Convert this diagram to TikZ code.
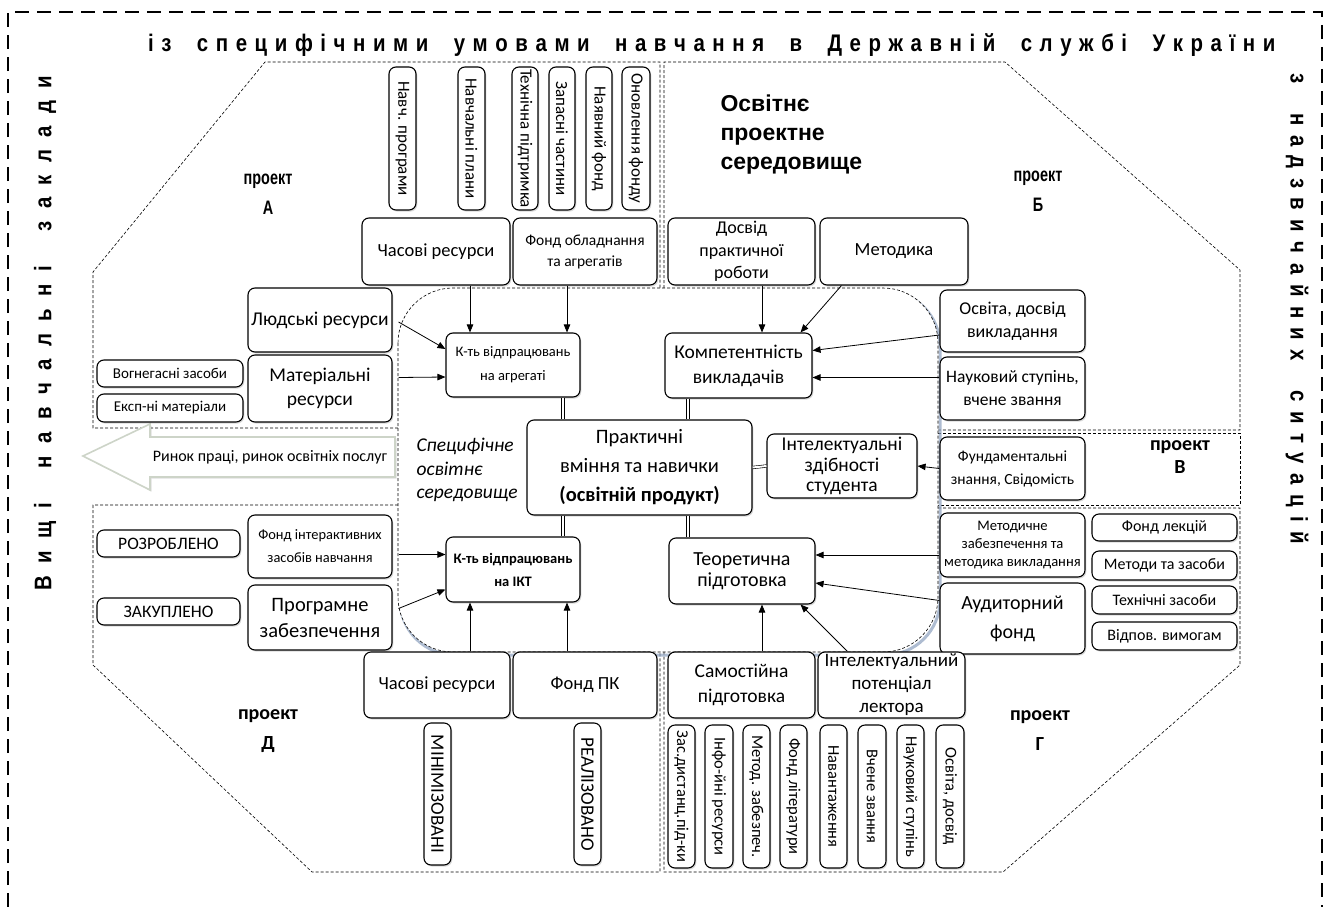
\documentclass[tikz,border=0pt]{standalone}
\usepackage{fontspec}
\setmainfont{Carlito}
\newfontfamily\arialf{Liberation Sans}
\usetikzlibrary{arrows.meta,calc,shadows}
\makeatletter
\newcommand\spreadw[1]{\def\sw@f{1}\@tfor\sw@c:=#1\do{\ifnum\sw@f=1 \def\sw@f{0}\else\hskip 0pt plus 1fil\relax\fi\sw@c}}
\makeatother
\newcommand\wgap{\hskip 0.5em plus 2fil\relax}
\definecolor{shadowblue}{RGB}{140,160,190}
\definecolor{arrowedge}{RGB}{205,212,200}
\tikzset{
 bx/.style={draw, rounded corners=7pt, fill=white, line width=1.1pt, align=center, inner sep=1pt,
   drop shadow={shadow xshift=1.3pt, shadow yshift=-1.6pt, opacity=0.3}},
 reg/.style={draw, line width=0.6pt, dash pattern=on 3pt off 2pt},
 outer/.style={draw, line width=1.8pt, dash pattern=on 14pt off 8pt},
 arr/.style={-{Triangle[length=8pt,width=6.5pt]}, line width=0.8pt},
 dbl/.style={double, double distance=2pt, line width=0.6pt},
 title/.style={font=\arialf\bfseries\fontsize{24}{28}\selectfont, inner sep=0},
}
\newcommand\fs[1]{\fontsize{#1}{#1}\selectfont}
\newcommand\ff[2]{\fontsize{#1}{#2}\selectfont}
\newcommand\BX[7]{\node[bx, font=#6, minimum width={#4-#2}, minimum height={#5-#3}] (#1) at ({(#2+#4)/2},{(#3+#5)/2}) {#7};}
\newcommand\VBX[7]{\node[bx, rotate=-90, font=#6, minimum width={#5-#3}, minimum height={#4-#2}] (#1) at ({(#2+#4)/2},{(#3+#5)/2}) {#7};}
\newcommand\narrow[1]{\scalebox{0.74}[1]{#1}}
\begin{document}
\begin{tikzpicture}[x=1pt,y=-1pt]
\useasboundingbox (0,0) rectangle (1330,907);
% outer border
\draw[outer] (8,907) -- (8,12) -- (1322,12) -- (1322,907);
% titles
\node[title, anchor=west] (hdr) at (148,45)
 {\scalebox{0.85}[1]{\makebox[1326pt][s]{\spreadw{із}\wgap\spreadw{специфічними}\wgap\spreadw{умовами}\wgap\spreadw{навчання}\wgap\spreadw{в}\wgap\spreadw{Державній}\wgap\spreadw{службі}\wgap\spreadw{України}}}};
\node[title, rotate=90] (vl) at (45,333)
 {\scalebox{0.85}[1]{\makebox[606pt][s]{\spreadw{Вищі}\wgap\spreadw{навчальні}\wgap\spreadw{заклади}}}};
\node[title, rotate=-90] (vr) at (1297,309)
 {\scalebox{0.85}[1]{\makebox[553pt][s]{\spreadw{з}\wgap\spreadw{надзвичайних}\wgap\spreadw{ситуацій}}}};
% project regions
\draw[reg] (398,428) -- (93,428) -- (93,272) -- (265,62) -- (660,62) -- (660,288);
\draw[reg] (664,288) -- (664,62) -- (1005,62) -- (1240,270) -- (1240,430) -- (938,430);
\draw[reg] (938,433) -- (1240,433) -- (1240,505) -- (938,505);
\draw[reg] (938,508) -- (1240,508) -- (1240,665) -- (1003,872) -- (664,872) -- (664,652);
\draw[reg] (398,505) -- (93,505) -- (93,665) -- (312,872) -- (660,872) -- (660,652);
% market arrow
\draw[draw=arrowedge, fill=white, line width=1.6pt, drop shadow={shadow xshift=1.5pt, shadow yshift=-1.5pt, opacity=0.25}]
  (83,456) -- (150,424) -- (150,437) -- (395,437) -- (395,477) -- (150,477) -- (150,490) -- cycle;
\node[font=\fs{16}] (mkt) at (270,457) {Ринок праці, ринок освітніх послуг};
% central region
\draw[line width=3pt, draw=shadowblue, opacity=0.7, rounded corners=55pt] (400,291) rectangle (940,655);
\draw[reg, fill=white, rounded corners=55pt] (398,288) rectangle (938,652);
% labels
\node[font=\arialf\bfseries\fontsize{19.5}{30}\selectfont, align=center] (pa) at (268,194) {\narrow{проект}\\\narrow{А}};
\node[font=\arialf\bfseries\fontsize{19.5}{30}\selectfont, align=center] (pb) at (1038,191) {\narrow{проект}\\\narrow{Б}};
\node[font=\bfseries\fontsize{20}{23}\selectfont, align=center] (pv) at (1180,457) {проект\\В};
\node[font=\bfseries\fontsize{20}{30}\selectfont, align=center] (pg) at (1040,731) {проект\\Г};
\node[font=\bfseries\fontsize{20}{30}\selectfont, align=center] (pd) at (268,731) {проект\\Д};
\node[font=\arialf\bfseries\fontsize{23}{29}\selectfont, align=left, anchor=west] (ops) at (717,135) {Освітнє\\проектне\\середовище};
\node[font=\itshape\fontsize{19.5}{23.5}\selectfont, align=left, anchor=west] (sos) at (413,470) {Специфічне\\освітнє\\середовище};
% top vertical boxes
\VBX{v1}{389}{67}{416}{210}{\fs{17}}{Навч. програми}
\VBX{v2}{458}{67}{485}{210}{\fs{17}}{Навчальні плани}
\VBX{v3}{512}{67}{538}{210}{\fs{17}}{Технічна підтримка}
\VBX{v4}{549}{67}{575}{210}{\fs{17}}{Запасні частини}
\VBX{v5}{586}{67}{612}{210}{\fs{17}}{Наявний фонд}
\VBX{v6}{622}{67}{650}{210}{\fs{17}}{Оновлення фонду}
% top row
\BX{time1}{362}{218}{510}{285}{\fs{18.5}}{Часові ресурси}
\BX{fobl}{513}{218}{657}{285}{\ff{15.5}{21}}{Фонд обладнання\\та агрегатів}
\BX{dosv}{668}{218}{815}{285}{\ff{18}{22.5}}{Досвід\\практичної\\роботи}
\BX{metk}{820}{218}{968}{285}{\fs{18.5}}{Методика}
% left
\BX{ludy}{248}{288}{392}{352}{\fs{19.5}}{Людські ресурси}
\BX{mat}{248}{355}{392}{422}{\ff{19.5}{24}}{Матеріальні\\ресурси}
\BX{vog}{97}{360}{243}{387}{\fs{15}}{Вогнегасні засоби}
\BX{eksp}{97}{394}{243}{422}{\fs{15}}{Експ-ні матеріали}
% center
\BX{agg}{446}{333}{580}{397}{\ff{14.5}{24}}{К-ть відпрацювань\\на агрегаті}
\BX{komp}{665}{333}{812}{398}{\ff{19.5}{25}}{Компетентність\\викладачів}
\BX{prac}{527}{420}{752}{515}{\ff{20.5}{29}}{Практичні\\вміння та навички\\\textbf{(освітній продукт)}}
\BX{intel}{767}{434}{917}{498}{\ff{19.5}{20.5}}{Інтелектуальні\\здібності\\студента}
\BX{ikt}{446}{537}{580}{602}{\bfseries\ff{14.5}{23}}{К-ть відпрацювань\\на ІКТ}
\BX{teor}{669}{538}{815}{604}{\ff{20}{21.5}}{Теоретична\\підготовка}
% right
\BX{osv}{940}{290}{1085}{352}{\ff{18}{23}}{Освіта, досвід\\викладання}
\BX{nauk}{940}{357}{1085}{420}{\ff{17.5}{23}}{Науковий ступінь,\\вчене звання}
\BX{fund}{940}{437}{1085}{500}{\ff{15.5}{23}}{Фундаментальні\\знання, Свідомість}
\BX{metz}{940}{513}{1085}{577}{\ff{14.6}{18}}{Методичне\\забезпечення та\\методика викладання}
\BX{aud}{940}{583}{1085}{654}{\ff{20}{29}}{Аудиторний\\фонд}
\BX{flek}{1092}{514}{1237}{541}{\fs{16}}{Фонд лекцій}
\BX{mzas}{1092}{551}{1237}{580}{\fs{16}}{Методи та засоби}
\BX{tzas}{1092}{586}{1237}{614}{\fs{16}}{Технічні засоби}
\BX{vidp}{1092}{622}{1237}{650}{\fs{16}}{Відпов. вимогам}
% left bottom
\BX{rozr}{97}{530}{240}{557}{\fs{17.5}}{РОЗРОБЛЕНО}
\BX{fint}{248}{515}{392}{578}{\ff{14.4}{23}}{Фонд інтерактивних\\засобів навчання}
\BX{zak}{97}{598}{240}{625}{\fs{17.5}}{ЗАКУПЛЕНО}
\BX{prog}{248}{585}{392}{650}{\ff{20.5}{26}}{Програмне\\забезпечення}
% bottom row
\BX{time2}{364}{652}{510}{718}{\fs{18.5}}{Часові ресурси}
\BX{fpk}{513}{652}{657}{718}{\fs{18.5}}{Фонд ПК}
\BX{sam}{668}{652}{815}{718}{\ff{19.5}{25}}{Самостійна\\підготовка}
\BX{lect}{818}{652}{965}{718}{\ff{19}{23}}{Інтелектуальний\\потенціал\\лектора}
% bottom vertical boxes
\VBX{minim}{424}{723}{451}{865}{\fs{19}}{МІНІМІЗОВАНІ}
\VBX{realz}{574}{723}{601}{865}{\fs{19}}{РЕАЛІЗОВАНО}
\VBX{b1}{668}{725}{695}{868}{\fs{16.5}}{Зас.дистанц.під-ки}
\VBX{b2}{705}{725}{733}{868}{\fs{16.5}}{Інфо-йні ресурси}
\VBX{b3}{743}{725}{770}{868}{\fs{16.5}}{Метод. забезпеч.}
\VBX{b4}{780}{725}{807}{868}{\fs{16.5}}{Фонд літератури}
\VBX{b5}{820}{725}{847}{868}{\fs{16.5}}{Навантаження}
\VBX{b6}{858}{725}{886}{868}{\fs{16.5}}{Вчене звання}
\VBX{b7}{897}{725}{924}{868}{\fs{16.5}}{Науковий ступінь}
\VBX{b8}{936}{725}{964}{868}{\fs{16.5}}{Освіта, досвід}
% columns
\coordinate (X470) at (470,0);
\coordinate (X567) at (567,0);
\coordinate (X563) at (563,0);
\coordinate (X688) at (688,0);
\coordinate (X762) at (762,0);
% arrows
\draw[arr] (time1.south -| X470) -- (agg.north -| X470);
\draw[arr] (fobl.south -| X567) -- (agg.north -| X567);
\draw[arr] ($(ludy.east)+(6,2)$) -- ($(agg.west)+(0,-16)$);
\draw[arr] ($(mat.east)+(6,-11)$) -- ($(agg.west)+(0,12)$);
\draw[arr] (dosv.south -| X762) -- (komp.north -| X762);
\draw[arr] ($(metk.south west)+(22,0)$) -- ($(komp.north east)+(-12,0)$);
\draw[arr] ($(osv.west)+(0,14)$) -- ($(komp.east)+(0,-15)$);
\draw[arr] ($(nauk.west)+(0,-11)$) -- ($(komp.east)+(0,12)$);
\draw[arr] (fund.west) -- (intel.east);
\draw[arr] ($(metz.west)+(0,10)$) -- ($(teor.east)+(0,-16)$);
\draw[arr] ($(aud.west)+(0,-18)$) -- ($(teor.east)+(0,12)$);
\draw[arr] (sam.north -| X762) -- (teor.south -| X762);
\draw[arr] ($(lect.north west)+(30,0)$) -- ($(teor.south east)+(-15,0)$);
\draw[arr] ($(fint.east)+(6,8)$) -- ($(ikt.west)+(0,-15)$);
\draw[arr] ($(prog.east)+(6,-9)$) -- ($(ikt.west)+(0,20)$);
\draw[arr] (time2.north -| X470) -- (ikt.south -| X470);
\draw[arr] (fpk.north -| X567) -- (ikt.south -| X567);
% double links
\draw[dbl] (agg.south -| X563) -- (prac.north -| X563);
\draw[dbl] (komp.south -| X688) -- (prac.north -| X688);
\draw[dbl] (prac.south -| X563) -- (ikt.north -| X563);
\draw[dbl] (prac.south -| X688) -- (teor.north -| X688);
\draw[dbl] (prac.east) -- (intel.west);
\end{tikzpicture}
\end{document}
